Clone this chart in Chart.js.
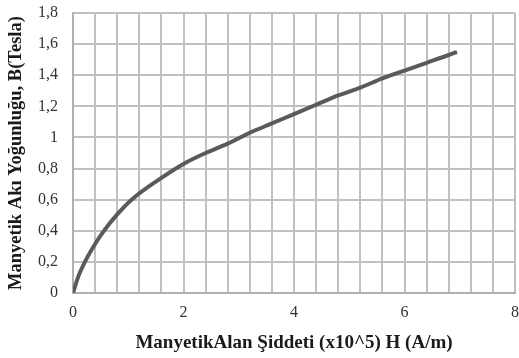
<!DOCTYPE html>
<html>
<head>
<meta charset="utf-8">
<script src="https://cdn.jsdelivr.net/npm/chart.js@4.4.1/dist/chart.umd.min.js"></script>
<style>
  html, body { margin: 0; padding: 0; background: #fff; }
  #wrap { width: 519px; height: 358px; }
</style>
</head>
<body>
<div id="wrap"><canvas id="grafik" width="519" height="358"></canvas></div>
<script>
// H (x10^5 A/m) ve B (Tesla) degerleri
const alanSiddeti = [0, 0.1, 0.23, 0.4, 0.54, 0.8, 1.06, 1.6, 2.0, 2.4, 2.8, 3.2, 3.6, 4.0, 4.4, 4.8, 5.2, 5.6, 6.0, 6.4, 6.8, 6.95];
const akiYogunlugu = [0, 0.11, 0.21, 0.315, 0.39, 0.505, 0.6, 0.74, 0.83, 0.90, 0.96, 1.03, 1.09, 1.15, 1.21, 1.27, 1.32, 1.38, 1.43, 1.48, 1.53, 1.55];
const xEtiketleri = [0, 2, 4, 6, 8];

const yaziTipi = "'Liberation Serif', 'Times New Roman', serif";

const noktalar = alanSiddeti.map((h, i) => ({ x: h, y: akiYogunlugu[i] }));

const ctx = document.getElementById('grafik').getContext('2d');

new Chart(ctx, {
  type: 'line',
  data: {
    datasets: [{
      label: 'B-H',
      data: noktalar,
      borderColor: '#5a5a5a',
      borderWidth: 4,
      pointRadius: 0,
      cubicInterpolationMode: 'monotone',
      fill: false
    }]
  },
  options: {
    responsive: false,
    animation: false,
    layout: { padding: { left: 5, right: 4, top: 13, bottom: 4 } },
    plugins: {
      legend: { display: false },
      tooltip: { enabled: false }
    },
    scales: {
      x: {
        type: 'linear',
        min: 0,
        max: 8,
        // eksen yuksekligini sabitle, kenar boslugunu layout'a birak
        afterFit(scale) {
          scale.height = 61;
          scale.paddingLeft = 0;
          scale.paddingRight = 0;
        },
        ticks: {
          stepSize: 0.4,
          autoSkip: false,
          maxRotation: 0,
          padding: 10,
          color: '#333',
          font: { family: yaziTipi, size: 16 },
          callback(v) {
            const yuvarla = Math.round(v);
            if (Math.abs(v - yuvarla) < 1e-6 && xEtiketleri.includes(yuvarla)) return String(yuvarla);
            return '';
          }
        },
        grid: { color: '#c0c0c0', lineWidth: 2, drawTicks: false },
        border: { color: '#b0b0b0', width: 2 },
        title: {
          display: true,
          text: 'ManyetikAlan Şiddeti (x10^5) H (A/m)',
          color: '#1a1a1a',
          font: { family: yaziTipi, size: 19, weight: 'bold' },
          padding: { top: 0, bottom: 0 }
        }
      },
      y: {
        min: 0,
        max: 1.8,
        afterFit(scale) {
          scale.width = 68;
          scale.paddingTop = 0;
          scale.paddingBottom = 0;
        },
        ticks: {
          stepSize: 0.2,
          padding: 15,
          color: '#333',
          font: { family: yaziTipi, size: 16 },
          callback: v => String(Number(v.toFixed(1))).replace('.', ',')
        },
        grid: { color: '#c0c0c0', lineWidth: 2, drawTicks: false },
        border: { color: '#b0b0b0', width: 2 },
        title: {
          display: true,
          text: 'Manyetik Akı Yoğunluğu, B(Tesla)',
          color: '#1a1a1a',
          font: { family: yaziTipi, size: 18.5, weight: 'bold' },
          padding: { top: 0, bottom: 0 }
        }
      }
    }
  }
});
</script>
</body>
</html>
